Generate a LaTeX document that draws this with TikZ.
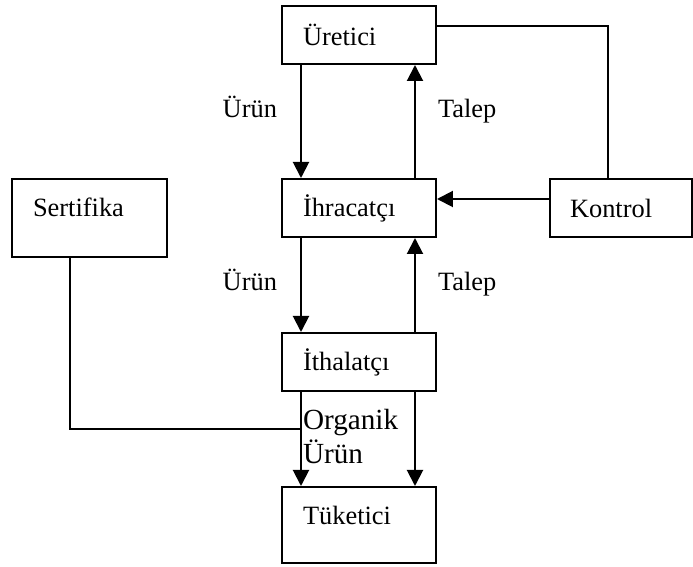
\documentclass[tikz,border=0pt]{standalone}
\usepackage{fontspec}
\setmainfont{Liberation Serif}
\usetikzlibrary{arrows.meta}

\begin{document}
\begin{tikzpicture}
  [x=0.5pt,y=-0.5pt,line width=1pt,
   box/.style={draw,rectangle,align=left,inner xsep=10.5pt,inner ysep=0pt,
     minimum width=77pt,minimum height=29pt,text width=56pt,
     font=\fontsize{13.2}{15.8}\selectfont},
   lbl/.style={inner sep=0pt,font=\fontsize{13.2}{15.8}\selectfont},
   arr/.style={-{Triangle[length=8pt,width=8pt]}}]
  \useasboundingbox (0,0) rectangle (693,567);

  \node[box] (ure) at (359,35)  {Üretici};
  \node[box] (ihr) at (359,208) {İhracatçı};
  \node[box] (ith) at (359,362) {İthalatçı};
  \node[box,minimum height=38pt,text depth=10pt] (tuk) at (359,525) {Tüketici};
  \node[box,minimum width=77.5pt,text width=56.5pt,minimum height=39pt,
    text depth=11pt] (ser) at (89.5,218) {Sertifika};
  \node[box,minimum width=71pt,text width=51pt,inner xsep=10pt] (kon) at (621,208) {Kontrol};

  % x of the arrows, y of side lines
  \coordinate (dx) at (301,0);
  \coordinate (ux) at (415,0);
  \coordinate (ky) at (0,199);
  \coordinate (kx) at (608,26);
  \coordinate (sx) at (70,429);

  \foreach \from/\to in {ure/ihr,ihr/ith,ith/tuk}
    \draw[arr] (\from.south -| dx) -- (\to.north -| dx);
  \foreach \from/\to in {ihr/ure,ith/ihr}
    \draw[arr] (\from.north -| ux) -- (\to.south -| ux);
  \draw[arr] (ith.south -| ux) -- (tuk.north -| ux);

  \draw[arr] (kon.west |- ky) -- (ihr.east |- ky);
  \draw (ure.east |- kx) -| (kon.north -| kx);
  \draw (ser.south -| sx) |- (dx |- sx);

  \node[lbl,anchor=base east] (urun1) at (278,118) {Ürün};
  \node[lbl,anchor=base west] (talep1) at (437,118) {Talep};
  \node[lbl,anchor=base east] (urun2) at (278,291) {Ürün};
  \node[lbl,anchor=base west] (talep2) at (437,291) {Talep};
  \node[lbl,anchor=north west,align=left,font=\fontsize{14.6}{17}\selectfont]
    (org) at (302,408) {Organik\\Ürün};
\end{tikzpicture}
\end{document}
